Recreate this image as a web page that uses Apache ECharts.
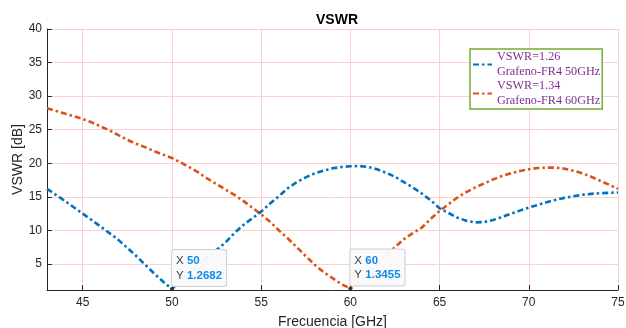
<!DOCTYPE html>
<html>
<head>
<meta charset="utf-8">
<script src="https://cdn.jsdelivr.net/npm/echarts@6/dist/echarts.min.js"></script>
<style>
html,body{margin:0;padding:0;background:#fff;}
#c{width:626px;height:328px;}
</style>
</head>
<body>
<div id="c"></div>
<script>
// Frequency samples (GHz)
var freq = [43,43.5,44,44.5,45,45.5,46,46.5,47,47.5,48,48.5,49,49.5,50,50.5,51,51.5,52,52.5,53,53.5,54,54.5,55,55.5,56,56.5,57,57.5,58,58.5,59,59.5,60,60.5,61,61.5,62,62.5,63,63.5,64,64.5,65,65.5,66,66.5,67,67.5,68,68.5,69,69.5,70,70.5,71,71.5,72,72.5,73,73.5,74,74.5,75];
// VSWR, Grafeno-FR4 50GHz (blue)
var vswr50 = [16.2,15.3,14.4,13.45,12.5,11.55,10.6,9.6,8.6,7.4,6.2,4.9,3.6,2.4,1.2682,2.6,3.9,5.0,6.0,7.1,8.2,9.6,10.8,11.8,12.8,14.0,15.1,16.3,17.2,17.9,18.5,18.9,19.25,19.45,19.55,19.6,19.45,19.1,18.6,18.0,17.2,16.4,15.5,14.5,13.3,12.6,11.9,11.45,11.2,11.25,11.55,12.0,12.5,12.95,13.4,13.8,14.2,14.55,14.85,15.1,15.3,15.45,15.55,15.6,15.65];
// VSWR, Grafeno-FR4 60GHz (orange)
var vswr60 = [28.2,27.8,27.4,27.0,26.6,26.1,25.5,24.9,24.2,23.5,22.9,22.4,21.8,21.3,20.8,20.1,19.4,18.6,17.7,16.9,16.1,15.3,14.4,13.4,12.4,11.3,10.0,8.8,7.5,6.2,4.9,3.8,2.9,2.0,1.3455,2.3,3.5,5.0,6.3,7.5,8.7,9.6,10.4,11.7,12.9,13.9,14.9,15.7,16.4,17.0,17.6,18.1,18.5,18.85,19.1,19.3,19.35,19.35,19.2,18.9,18.5,18.0,17.4,16.8,16.2];
var xTicks = [45,50,55,60,65,70,75];
var yTicks = [5,10,15,20,25,30,35,40];
var seriesNames = ['VSWR=1.26\nGrafeno-FR4 50GHz','VSWR=1.34\nGrafeno-FR4 60GHz'];
var tip50 = [50, 1.2682];
var tip60 = [60, 1.3455];

function pairs(ys){ return freq.map(function(f,i){ return [f, ys[i]]; }); }

var axisColor = '#262626';
var gridColor = '#fbd0d0';
var dash = [6, 3, 2.5, 3];

function tipPoint(c){
  return {
    symbol: 'circle', symbolSize: 4,
    itemStyle: {color: '#333'},
    label: {
      show: true,
      position: [2, -1],
      align: 'left', verticalAlign: 'bottom',
      formatter: '{k|X} {v|' + c[0] + '}\n{k|Y} {v|' + c[1] + '}',
      backgroundColor: 'rgba(250,250,252,0.95)',
      borderColor: '#cfcfcf', borderWidth: 1, borderRadius: 2,
      padding: [4, 4, 3, 4],
      rich: {
        k: {color: '#404040', fontSize: 11.5, fontFamily: 'Liberation Sans', lineHeight: 14.5},
        v: {color: '#0f8ce6', fontSize: 11.5, fontWeight: 'bold', fontFamily: 'Liberation Sans', lineHeight: 14.5}
      }
    },
    data: [{coord: c, value: c[1]}]
  };
}

var chart = echarts.init(document.getElementById('c'), null, {renderer: 'canvas'});
chart.setOption({
  backgroundColor: '#fff',
  animation: false,
  title: {
    text: 'VSWR', left: 332, top: 8, textAlign: 'center',
    textStyle: {fontFamily: 'Liberation Sans', fontWeight: 'bold', fontSize: 14, color: '#000'}
  },
  grid: {left: 47, right: 8, top: 29, bottom: 38, containLabel: false, outerBoundsMode: 'none'},
  legend: {
    orient: 'vertical', left: 470, top: 49,
    data: seriesNames,
    backgroundColor: '#fff',
    borderColor: '#77AC30', borderWidth: 1.5,
    padding: [1, 2, 1, 2],
    itemGap: 0, itemWidth: 19, itemHeight: 14,
    itemStyle: {opacity: 0},
    textStyle: {fontFamily: 'Liberation Serif', fontSize: 12.2, color: '#7E2F8E', lineHeight: 14.5}
  },
  xAxis: {
    type: 'value', min: 43, max: 75,
    name: 'Frecuencia [GHz]', nameLocation: 'middle', nameGap: 25, nameMoveOverlap: false,
    nameTextStyle: {fontFamily: 'Liberation Sans', fontSize: 14, color: axisColor},
    axisLine: {show: true, lineStyle: {color: axisColor, width: 1}},
    axisTick: {show: true, inside: true, length: 5, customValues: xTicks, lineStyle: {color: axisColor}},
    axisLabel: {customValues: xTicks, margin: 7, fontFamily: 'Liberation Sans', fontSize: 12, color: axisColor},
    splitLine: {show: true, lineStyle: {color: gridColor, width: 1}}
  },
  yAxis: {
    type: 'value', min: 1.13, max: 40,
    name: 'VSWR [dB]', nameLocation: 'middle', nameGap: 22, nameMoveOverlap: false,
    nameTextStyle: {fontFamily: 'Liberation Sans', fontSize: 14, color: axisColor},
    axisLine: {show: true, lineStyle: {color: axisColor, width: 1}},
    axisTick: {show: true, inside: true, length: 5, customValues: yTicks, lineStyle: {color: axisColor}},
    axisLabel: {customValues: yTicks, margin: 5, fontFamily: 'Liberation Sans', fontSize: 12, color: axisColor},
    splitLine: {show: true, lineStyle: {color: gridColor, width: 1}}
  },
  series: [
    {
      name: seriesNames[0], type: 'line', data: pairs(vswr50),
      showSymbol: false, symbol: 'none', smooth: false,
      lineStyle: {color: '#0072BD', width: 2.6, type: dash},
      itemStyle: {color: '#0072BD'},
      markPoint: tipPoint(tip50),
      z: 3
    },
    {
      name: seriesNames[1], type: 'line', data: pairs(vswr60),
      showSymbol: false, symbol: 'none', smooth: false,
      lineStyle: {color: '#D95319', width: 2.6, type: dash},
      itemStyle: {color: '#D95319'},
      markPoint: tipPoint(tip60),
      z: 2
    }
  ]
});
</script>
</body>
</html>
